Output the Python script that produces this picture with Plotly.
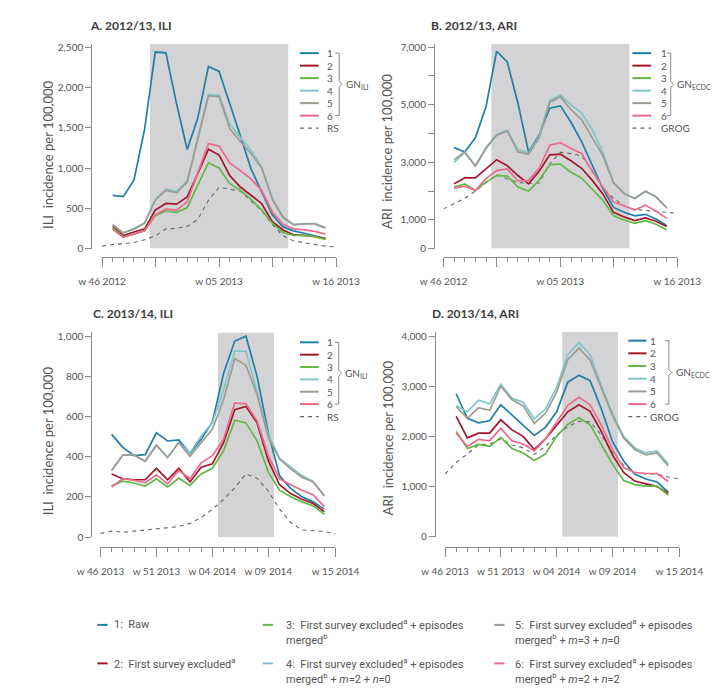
import plotly.graph_objects as go

W, H = 725, 690

# ---------------- DATA ----------------
# Season 2012/13: week index 0 = w46 2012 ... 22 = w16 2013
ticks_1213 = [0, 5, 11, 16, 22]
ticklabels_1213 = ["w 46 2012", "", "w 05 2013", "", "w 16 2013"]
# Season 2013/14: week index 0 = w46 2013 ... 21 = w15 2014
ticks_1314 = [0, 5, 10, 15, 21]
ticklabels_1314 = ["w 46 2013", "w 51 2013", "w 04 2014", "w 09 2014", "w 15 2014"]

weeks_gn_1213 = list(range(1, 22))
weeks_ref_1213 = list(range(0, 23))
weeks_gn_1314 = list(range(1, 21))
weeks_ref_1314 = list(range(0, 22))

# Epidemic period (shaded), in week index
epi_1213 = [4.5, 17.5]
epi_1314 = [10.5, 15.5]

# A. 2012/13 ILI
A_s1 = [660, 645, 850, 1480, 2440, 2430, 1800, 1230, 1620, 2260, 2200, 1810, 1400, 990, 710, 420, 270, 220, 190, 160, 123]
A_s2 = [275, 160, 205, 245, 478, 560, 551, 642, 930, 1234, 1160, 907, 764, 662, 560, 335, 230, 172, 164, 150, 123]
A_s3 = [255, 145, 180, 220, 409, 466, 450, 507, 790, 1065, 1000, 805, 723, 610, 480, 315, 200, 164, 164, 148, 115]
A_s4 = [300, 195, 245, 320, 610, 740, 710, 840, 1380, 1910, 1905, 1550, 1380, 1220, 1010, 630, 400, 300, 310, 310, 260]
A_s5 = [295, 192, 241, 315, 601, 723, 691, 826, 1356, 1895, 1887, 1490, 1330, 1180, 1000, 610, 385, 294, 306, 306, 254]
A_s6 = [240, 139, 180, 221, 417, 490, 478, 581, 940, 1303, 1274, 1062, 968, 866, 723, 457, 300, 245, 233, 213, 180]
A_ref = [30, 50, 60, 75, 110, 155, 245, 250, 275, 360, 600, 760, 735, 715, 590, 470, 300, 160, 95, 70, 50, 30, 20]

# B. 2012/13 ARI
B_s1 = [3510, 3360, 3850, 4940, 6860, 6490, 5060, 3360, 3950, 4880, 4960, 4390, 3720, 2880, 2080, 1430, 1260, 1140, 1190, 1030, 800]
B_s2 = [2250, 2460, 2460, 2770, 3090, 2880, 2540, 2250, 2690, 3260, 3280, 3050, 2790, 2370, 1900, 1260, 1100, 975, 1065, 950, 770]
B_s3 = [2140, 2250, 2020, 2310, 2540, 2520, 2140, 2000, 2370, 2920, 2940, 2650, 2450, 2080, 1680, 1140, 995, 880, 970, 845, 650]
B_s4 = [3000, 3340, 2880, 3510, 3970, 4120, 3450, 3320, 3910, 5150, 5340, 5000, 4710, 4140, 3340, 2290, 1910, 1740, 1990, 1800, 1420]
B_s5 = [3090, 3360, 2860, 3480, 3940, 4080, 3360, 3280, 3850, 5080, 5280, 4830, 4480, 3850, 3230, 2290, 1910, 1740, 1990, 1800, 1420]
B_s6 = [2100, 2170, 2020, 2430, 2710, 2770, 2350, 2370, 2790, 3590, 3680, 3480, 3310, 2680, 2140, 1620, 1490, 1340, 1510, 1300, 1050]
B_ref = [1380, 1560, 1740, 2000, 2300, 2570, 2420, 2300, 2260, 2280, 2950, 3350, 3300, 3230, 2700, 2100, 1750, 1480, 1360, 1320, 1290, 1260, 1230]

# C. 2013/14 ILI
C_s1 = [511, 446, 405, 410, 519, 478, 483, 416, 486, 572, 814, 975, 999, 798, 519, 306, 241, 200, 175, 139]
C_s2 = [314, 290, 285, 285, 342, 285, 342, 274, 347, 364, 470, 634, 650, 568, 380, 260, 216, 188, 167, 126]
C_s3 = [254, 278, 269, 254, 290, 249, 293, 257, 314, 342, 429, 581, 568, 478, 323, 233, 200, 175, 156, 113]
C_s4 = [331, 408, 408, 377, 457, 396, 470, 418, 503, 568, 732, 925, 925, 716, 511, 391, 347, 306, 277, 205]
C_s5 = [331, 408, 408, 377, 457, 396, 470, 401, 470, 536, 683, 888, 855, 708, 495, 388, 339, 298, 274, 205]
C_s6 = [249, 290, 282, 270, 310, 265, 331, 290, 369, 405, 486, 667, 663, 577, 405, 290, 260, 233, 211, 151]
C_ref = [18, 30, 24, 30, 35, 40, 45, 52, 68, 97, 138, 187, 245, 315, 292, 228, 140, 72, 35, 32, 28, 15]

# D. 2013/14 ARI
D_s1 = [2850, 2360, 2270, 2310, 2630, 2420, 2230, 2020, 2180, 2490, 3080, 3220, 3110, 2550, 1900, 1510, 1250, 1150, 1090, 890]
D_s2 = [2400, 1970, 2065, 2065, 2330, 2130, 2000, 1740, 1950, 2230, 2490, 2630, 2500, 2100, 1630, 1280, 1110, 1055, 1000, 860]
D_s3 = [2100, 1760, 1840, 1800, 1980, 1760, 1670, 1520, 1650, 2000, 2240, 2370, 2230, 1840, 1450, 1120, 1040, 1010, 1010, 830]
D_s4 = [2610, 2490, 2720, 2650, 3040, 2760, 2680, 2345, 2550, 2980, 3630, 3870, 3630, 3010, 2460, 2000, 1770, 1670, 1710, 1450]
D_s5 = [2590, 2360, 2570, 2520, 3000, 2730, 2610, 2260, 2460, 2880, 3530, 3760, 3520, 2950, 2420, 1970, 1740, 1630, 1670, 1410]
D_s6 = [2070, 1800, 1940, 1910, 2160, 1910, 1850, 1710, 1950, 2290, 2620, 2780, 2630, 2230, 1740, 1380, 1280, 1260, 1260, 1100]
D_ref = [1250, 1480, 1650, 1830, 1850, 1950, 1830, 1770, 1640, 1800, 2030, 2190, 2300, 2290, 2030, 1680, 1430, 1290, 1250, 1250, 1190, 1150]

series_labels = ["1", "2", "3", "4", "5", "6"]
legend_texts = [
    ("1:  Raw", None),
    ("2:  First survey excluded<sup>a</sup>", None),
    ("3:  First survey excluded<sup>a</sup> + episodes", "merged<sup>b</sup>"),
    ("4:  First survey excluded<sup>a</sup> + episodes", "merged<sup>b</sup> + <i>m</i>=2 + <i>n</i>=0"),
    ("5:  First survey excluded<sup>a</sup> + episodes", "merged<sup>b</sup> + <i>m</i>=3 + <i>n</i>=0"),
    ("6:  First survey excluded<sup>a</sup> + episodes", "merged<sup>b</sup> + <i>m</i>=2 + <i>n</i>=2"),
]

# ---------------- STYLE ----------------
colors = ["#1f7fa6", "#a3172a", "#62b844", "#7fc5ca", "#9d9c90", "#ea6b8b"]
ref_color = "#666666"
axis_color = "#8a8a8a"
text_color = "#555555"
shade_color = "#d3d3d5"
FONT = "Lato, Open Sans, sans-serif"
NARROW = "Liberation Sans Narrow, Roboto, sans-serif"


def fx(x):
    return x / W


def fy(y):
    return 1 - y / H


panels = [
    dict(key="1", title="A. 2012/13, ILI", title_xy=(60, 15),
         ytitle="ILI  incidence per 100,000", ytitle_xy=(17, 145),
         xd=(75, 325.7), nx=22, xline=249, ytop=33.5, ybot=240.7, ymax=2539, yline=63.5,
         yticks=[0, 500, 1000, 1500, 2000, 2500],
         yticktext=["0", "500", "1,000", "1,500", "2,000", "2,500"],
         xt=ticks_1213, xtt=ticklabels_1213, epi=epi_1213,
         xs=weeks_gn_1213, xr=weeks_ref_1213,
         ser=[A_s1, A_s2, A_s3, A_s4, A_s5, A_s6], ref=A_ref, refname="RS", gnsub="ILI",
         leg=dict(l0=287, l1=307, lab=314, y0=42.7, dy=12.66, yref=118.7, bx=329)),
    dict(key="2", title="B. 2012/13, ARI", title_xy=(425, 15),
         ytitle="ARI  incidence per 100,000", ytitle_xy=(380, 142),
         xd=(440.7, 691), nx=22, xline=249, ytop=33.5, ybot=240.7, ymax=7110, yline=430.5,
         yticks=[0, 1000, 2000, 3000, 4000, 5000, 6000, 7000],
         yticktext=["0", "1,000", "", "3,000", "", "5,000", "", "7,000"],
         xt=ticks_1213, xtt=ticklabels_1213, epi=epi_1213,
         xs=weeks_gn_1213, xr=weeks_ref_1213,
         ser=[B_s1, B_s2, B_s3, B_s4, B_s5, B_s6], ref=B_ref, refname="GROG", gnsub="ECDC",
         leg=dict(l0=643, l1=663, lab=671, y0=42.7, dy=12.66, yref=118.7, bx=684)),
    dict(key="3", title="C. 2013/14, ILI", title_xy=(63, 306.7),
         ytitle="ILI  incidence per 100,000", ytitle_xy=(17, 435),
         xd=(73.3, 325), nx=21, xline=543.3, ytop=325.7, ybot=533, ymax=1018, yline=63.5,
         yticks=[0, 200, 400, 600, 800, 1000],
         yticktext=["0", "200", "400", "600", "800", "1,000"],
         xt=ticks_1314, xtt=ticklabels_1314, epi=epi_1314,
         xs=weeks_gn_1314, xr=weeks_ref_1314,
         ser=[C_s1, C_s2, C_s3, C_s4, C_s5, C_s6], ref=C_ref, refname="RS", gnsub="ILI",
         leg=dict(l0=287, l1=307, lab=314, y0=335.7, dy=12.52, yref=411, bx=328.5)),
    dict(key="4", title="D. 2013/14, ARI", title_xy=(426.7, 306.7),
         ytitle="ARI  incidence per 100,000", ytitle_xy=(381.5, 433),
         xd=(442.3, 693.3), nx=21, xline=542.7, ytop=325, ybot=532.7, ymax=4085, yline=431.5,
         yticks=[0, 1000, 2000, 3000, 4000],
         yticktext=["0", "1,000", "2,000", "3,000", "4,000"],
         xt=ticks_1314, xtt=ticklabels_1314, epi=epi_1314,
         xs=weeks_gn_1314, xr=weeks_ref_1314,
         ser=[D_s1, D_s2, D_s3, D_s4, D_s5, D_s6], ref=D_ref, refname="GROG", gnsub="ECDC",
         leg=dict(l0=638.5, l1=658, lab=660, y0=334, dy=12.86, yref=411, bx=682)),
]

fig = go.Figure()
shapes = []
annotations = []
layout_axes = {}

for p in panels:
    k = p["key"]
    xname = "x" if k == "1" else "x" + k
    yname = "y" if k == "1" else "y" + k
    xa = "xaxis" if k == "1" else "xaxis" + k
    ya = "yaxis" if k == "1" else "yaxis" + k

    layout_axes[xa] = dict(
        domain=[fx(p["xd"][0]), fx(p["xd"][1])], range=[0, p["nx"]],
        anchor="free", position=fy(p["xline"]),
        showline=True, linecolor=axis_color, linewidth=1,
        ticks="outside", ticklen=9, tickwidth=1, tickcolor=axis_color,
        tickmode="array", tickvals=p["xt"], ticktext=p["xtt"],
        tickfont=dict(family=FONT, size=10, color=text_color),
        ticklabelstandoff=6,
        minor=dict(ticks="outside", ticklen=4, tickwidth=1, tickcolor=axis_color,
                   tickmode="linear", tick0=0, dtick=1, showgrid=False),
        showgrid=False, zeroline=False, fixedrange=True,
    )
    layout_axes[ya] = dict(
        domain=[fy(p["ybot"]), fy(p["ytop"])], range=[0, p["ymax"]],
        anchor="free", position=fx(p["yline"]),
        showline=True, linecolor=axis_color, linewidth=1,
        ticks="outside", ticklen=6, tickwidth=1, tickcolor=axis_color,
        tickmode="array", tickvals=p["yticks"], ticktext=p["yticktext"],
        tickfont=dict(family=FONT, size=10, color=text_color),
        showgrid=False, zeroline=False, fixedrange=True,
    )

    # shaded epidemic period
    shapes.append(dict(type="rect", xref=xname, yref=yname,
                       x0=p["epi"][0], x1=p["epi"][1], y0=0, y1=p["ymax"],
                       fillcolor=shade_color, line=dict(width=0), layer="below"))

    # reference (dashed)
    fig.add_trace(go.Scatter(x=p["xr"], y=p["ref"], xaxis=xname, yaxis=yname,
                             mode="lines", line=dict(color=ref_color, width=1.1, dash="4px,4px"),
                             showlegend=False, hoverinfo="skip"))
    for i, s in enumerate(p["ser"]):
        fig.add_trace(go.Scatter(x=p["xs"], y=s, xaxis=xname, yaxis=yname,
                                 mode="lines", line=dict(color=colors[i], width=1.7),
                                 showlegend=False, hoverinfo="skip"))

    # titles
    annotations.append(dict(text="<b>" + p["title"] + "</b>", x=fx(p["title_xy"][0]), y=fy(p["title_xy"][1]),
                            xref="paper", yref="paper", xanchor="left", yanchor="middle", showarrow=False,
                            font=dict(family=FONT, size=12, color="#3d3d3d")))
    annotations.append(dict(text=p["ytitle"], x=fx(p["ytitle_xy"][0]), y=fy(p["ytitle_xy"][1]),
                            xref="paper", yref="paper", xanchor="center", yanchor="middle", showarrow=False,
                            textangle=-90, font=dict(family=FONT, size=13, color=text_color)))

    # in-panel legend
    lg = p["leg"]
    for i in range(6):
        yy = lg["y0"] + i * lg["dy"]
        shapes.append(dict(type="line", xref="paper", yref="paper",
                           x0=fx(lg["l0"]), x1=fx(lg["l1"]), y0=fy(yy), y1=fy(yy),
                           line=dict(color=colors[i], width=2)))
        annotations.append(dict(text=series_labels[i], x=fx(lg["lab"]), y=fy(yy),
                                xref="paper", yref="paper", xanchor="left", yanchor="middle",
                                showarrow=False, font=dict(family=FONT, size=10, color=text_color)))
    shapes.append(dict(type="line", xref="paper", yref="paper",
                       x0=fx(lg["l0"]), x1=fx(lg["l1"]), y0=fy(lg["yref"]), y1=fy(lg["yref"]),
                       line=dict(color=ref_color, width=1.1, dash="4px,4px")))
    annotations.append(dict(text=p["refname"], x=fx(lg["lab"]), y=fy(lg["yref"]),
                            xref="paper", yref="paper", xanchor="left", yanchor="middle",
                            showarrow=False, font=dict(family=FONT, size=10, color=text_color)))
    # bracket
    yt = lg["y0"]
    yb = lg["y0"] + 5 * lg["dy"]
    ym = (yt + yb) / 2
    bx = lg["bx"]
    pts = [(bx - 4, yt), (bx, yt), (bx, ym - 3), (bx + 3, ym), (bx, ym + 3), (bx, yb), (bx - 4, yb)]
    path = "M " + " L ".join("%.5f,%.5f" % (fx(a), fy(b)) for a, b in pts)
    shapes.append(dict(type="path", xref="paper", yref="paper", path=path,
                       line=dict(color=axis_color, width=1)))
    annotations.append(dict(text="GN<sub>" + p["gnsub"] + "</sub>", x=fx(bx + 5), y=fy(ym),
                            xref="paper", yref="paper", xanchor="left", yanchor="middle",
                            showarrow=False, font=dict(family=FONT, size=10, color=text_color)))

# bottom legend
col_x = [(70, 81, 86), (247, 258, 270), (495, 506, 515)]
row_y = [622, 661]
order = [(0, 0, 0), (1, 0, 1), (2, 1, 0), (3, 1, 1), (4, 2, 0), (5, 2, 1)]
for si, c, r in order:
    l0, l1, tx = col_x[c]
    yy = row_y[r]
    shapes.append(dict(type="line", xref="paper", yref="paper",
                       x0=fx(l0), x1=fx(l1), y0=fy(yy), y1=fy(yy),
                       line=dict(color=colors[si], width=2)))
    t1, t2 = legend_texts[si]
    annotations.append(dict(text=t1, x=fx(tx), y=fy(yy), xref="paper", yref="paper",
                            xanchor="left", yanchor="middle", showarrow=False,
                            font=dict(family=NARROW, size=11, color=text_color)))
    if t2:
        annotations.append(dict(text=t2, x=fx(tx), y=fy(yy + 15), xref="paper", yref="paper",
                                xanchor="left", yanchor="middle", showarrow=False,
                                font=dict(family=NARROW, size=11, color=text_color)))

fig.update_layout(
    width=W, height=H,
    margin=dict(l=0, r=0, t=0, b=0),
    paper_bgcolor="white", plot_bgcolor="rgba(0,0,0,0)",
    shapes=shapes, annotations=annotations,
    showlegend=False,
    **layout_axes,
)

fig.write_html("out.html")
